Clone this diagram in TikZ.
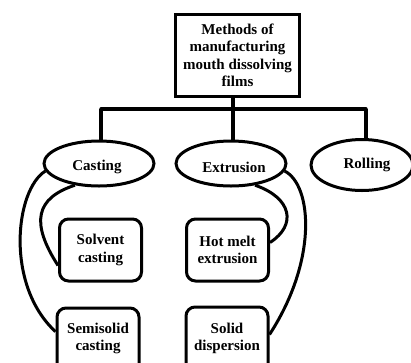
\documentclass[tikz,border=0pt]{standalone}
\usepackage{fontspec}
\setmainfont{Liberation Serif}
\usetikzlibrary{shapes.geometric}
\begin{document}
\begin{tikzpicture}[x=1pt,y=-1pt,
  every node/.style={font=\bfseries\fontsize{15}{17.5}\selectfont, align=center, inner sep=0pt},
  topbox/.style={draw, line width=3.6pt, minimum width=124pt, minimum height=82pt},
  oval/.style={draw, ellipse, line width=3pt, minimum width=110pt, minimum height=45pt},
  subbox/.style={draw, rounded corners=9pt, line width=3pt, minimum width=82pt, minimum height=62pt},
  link/.style={line width=3pt},
  tree/.style={line width=3.4pt}]
\useasboundingbox (0,0) rectangle (411,362);
\begin{scope}
\clip (0,0) rectangle (411,362);
\node[topbox] (top) at (237.5,55.5) {Methods of\\manufacturing\\mouth dissolving\\films};
\node[oval] (cast) at (99,163.5) {};
\node at (97,167) {Casting};
\node[oval] (extr) at (231,163.5) {};
\node at (234,167) {Extrusion};
\node[oval, minimum width=102pt, minimum height=51pt] (roll) at (362,165) {};
\node at (367,165) {Rolling};
\node[subbox] (solv) at (100.5,250) {Solvent\\casting};
\node[subbox] (hot) at (227.5,250) {Hot melt\\extrusion};
\node[subbox, minimum height=70pt] (semi) at (98,343) {};
\node at (98,338.5) {Semisolid\\casting};
\node[subbox, minimum height=70pt] (soli) at (227,342) {};
\node at (227,338.5) {Solid\\dispersion};
\coordinate (barL) at (101,109);
\coordinate (barM) at (233,109);
\coordinate (barR) at (366,109);
\draw[tree] (barM |- top.south) -- (barM |- extr.north);
\draw[tree, line cap=round] (barL) -- (barR);
\draw[tree] (barL) -- (barL |- cast.north);
\draw[tree] (barR) -- (barR |- roll.north);
\draw[link] (cast.222) .. controls (36,198) and (30,222) .. (solv.200);
\draw[link] (cast.188) .. controls (15,190) and (5,285) .. (semi.165);
\draw[link] (extr.318) .. controls (292,198) and (297,225) .. (hot.10);
\draw[link] (extr.352) .. controls (312,185) and (318,260) .. (soli.10);
\end{scope}
\end{tikzpicture}
\end{document}
